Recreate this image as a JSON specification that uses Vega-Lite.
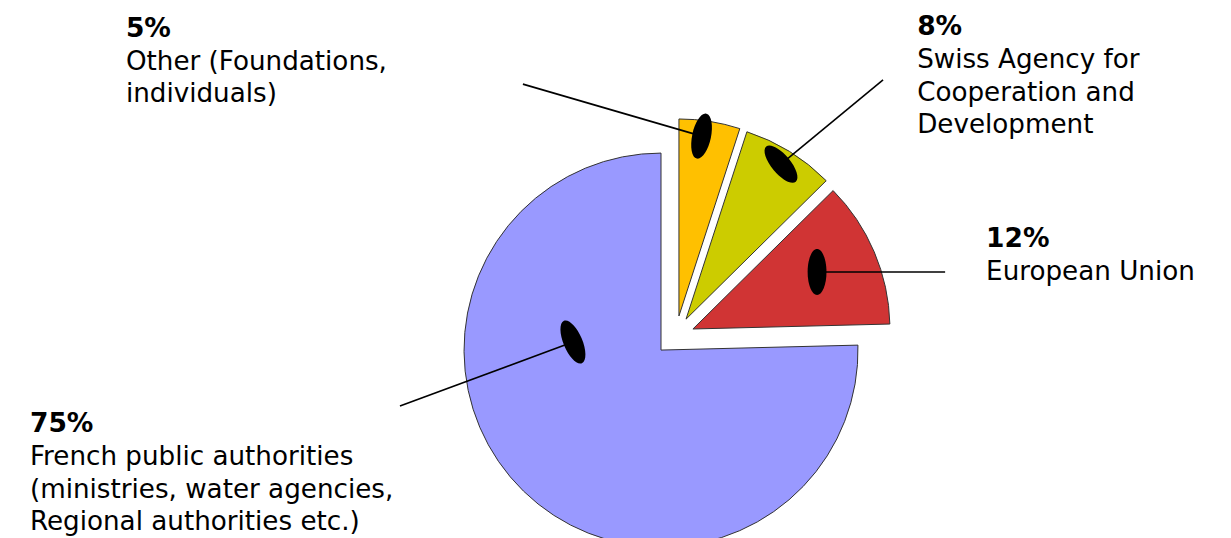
{
  "$schema": "https://vega.github.io/schema/vega-lite/v6.json",
  "width": 1231,
  "height": 538,
  "autosize": {"type": "none"},
  "padding": 0,
  "background": "white",
  "config": {"view": {"stroke": null}},
  "data": {
    "values": [
      {"source": "Other", "pct": "5%", "desc": "Other (Foundations,\nindividuals)", "share": 5.0, "ex": 9.1, "ey": 17.3, "mx": 20.6, "my": 108.6, "tilt": 12, "lx": -70.1, "ly": 135.0, "tx": -271.6, "ty": 159.1},
      {"source": "Swiss", "pct": "8%", "desc": "Swiss Agency for\nCooperation and\nDevelopment", "share": 7.6, "ex": 12.7, "ey": 15.7, "mx": 60.9, "my": 94.4, "tilt": -40, "lx": 112.7, "ly": 137.1, "tx": 130.0, "ty": 159.9},
      {"source": "EU", "pct": "12%", "desc": "European Union", "share": 12.0, "ex": 16.2, "ey": 10.7, "mx": 79.2, "my": 39.6, "tilt": 0, "lx": 144.2, "ly": 39.6, "tx": 165.0, "ty": 52.3},
      {"source": "French", "pct": "75%", "desc": "French public authorities\n(ministries, water agencies,\nRegional authorities etc.)", "share": 75.4, "ex": 0, "ey": 0, "mx": -44.7, "my": 4.1, "tilt": -23, "lx": -132.5, "ly": -28.4, "tx": -320.3, "ty": -41.6}
    ]
  },
  "transform": [
    {"stack": "share", "groupby": [], "as": ["t0", "t1"]}
  ],
  "layer": [
    {
      "mark": {"type": "arc", "radius": 197, "stroke": "#333333", "strokeWidth": 1},
      "encoding": {
        "x": {"field": "ex", "type": "quantitative", "axis": null, "scale": {"domain": [-335.5, 289.3], "nice": false, "zero": false}},
        "y": {"field": "ey", "type": "quantitative", "axis": null, "scale": {"domain": [-95.4, 177.7], "nice": false, "zero": false}},
        "theta": {"field": "t0", "type": "quantitative", "scale": {"domain": [0, 100]}},
        "theta2": {"field": "t1"},
        "color": {
          "field": "source", "type": "nominal", "legend": null,
          "scale": {"domain": ["Other", "Swiss", "EU", "French"], "range": ["#ffc000", "#cccc00", "#d03434", "#9999ff"]}
        }
      }
    },
    {
      "mark": {"type": "rule", "color": "black", "strokeWidth": 1.6},
      "encoding": {
        "x": {"field": "lx", "type": "quantitative", "axis": null, "scale": {"domain": [-335.5, 289.3], "nice": false, "zero": false}},
        "y": {"field": "ly", "type": "quantitative", "axis": null, "scale": {"domain": [-95.4, 177.7], "nice": false, "zero": false}},
        "x2": {"field": "mx"},
        "y2": {"field": "my"}
      }
    },
    {
      "mark": {"type": "point", "shape": "M0,-1A0.41,1,0,1,1,0,1A0.41,1,0,1,1,0,-1Z", "filled": true, "color": "black", "opacity": 1, "size": 2116},
      "encoding": {
        "x": {"field": "mx", "type": "quantitative", "axis": null, "scale": {"domain": [-335.5, 289.3], "nice": false, "zero": false}},
        "y": {"field": "my", "type": "quantitative", "axis": null, "scale": {"domain": [-95.4, 177.7], "nice": false, "zero": false}},
        "angle": {"field": "tilt", "type": "quantitative", "scale": null}
      }
    },
    {
      "mark": {"type": "text", "font": "DejaVu Sans", "fontWeight": "bold", "fontSize": 26.5, "align": "left", "baseline": "alphabetic", "color": "black"},
      "encoding": {
        "x": {"field": "tx", "type": "quantitative", "axis": null, "scale": {"domain": [-335.5, 289.3], "nice": false, "zero": false}},
        "y": {"field": "ty", "type": "quantitative", "axis": null, "scale": {"domain": [-95.4, 177.7], "nice": false, "zero": false}},
        "text": {"field": "pct"}
      }
    },
    {
      "mark": {"type": "text", "font": "DejaVu Sans", "fontSize": 26.2, "align": "left", "baseline": "alphabetic", "color": "black", "dy": 33, "lineHeight": 32.5, "lineBreak": "\n"},
      "encoding": {
        "x": {"field": "tx", "type": "quantitative", "axis": null, "scale": {"domain": [-335.5, 289.3], "nice": false, "zero": false}},
        "y": {"field": "ty", "type": "quantitative", "axis": null, "scale": {"domain": [-95.4, 177.7], "nice": false, "zero": false}},
        "text": {"field": "desc"}
      }
    }
  ]
}
